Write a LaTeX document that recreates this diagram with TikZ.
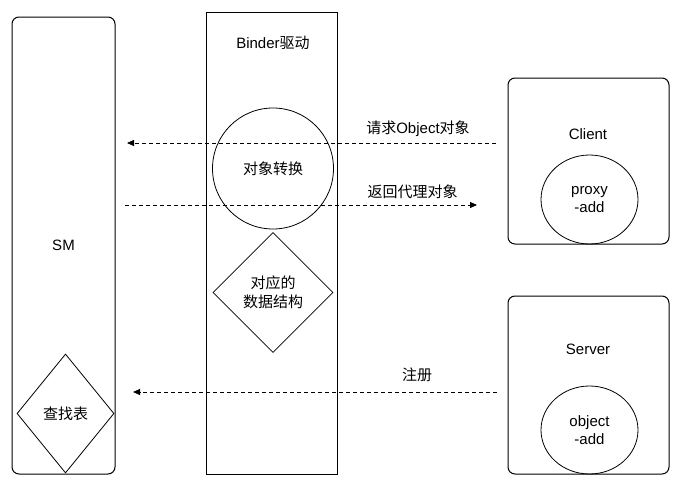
\documentclass[tikz,border=0pt]{standalone}
\usepackage{fontspec}
\setmainfont{Liberation Sans}
\newfontfamily\cjk{Noto Sans CJK SC}
\usetikzlibrary{positioning, shapes.geometric, arrows.meta}

\begin{document}
\begin{tikzpicture}[
            x=1pt, y=-1pt,
            font=\fontsize{15}{18}\selectfont,
            lane/.style={draw, line width=1pt, inner sep=0pt},
            host/.style={lane, rounded corners=7pt},
            zh/.style={font=\cjk\fontsize{15}{19}\selectfont},
            proc/.style={draw, line width=0.8pt, align=center, inner sep=0pt},
            store/.style={diamond, draw, line width=0.8pt, align=center, inner sep=0pt},
            msg/.style={-{Triangle[length=7pt,width=6pt]}, dash pattern=on 4pt off 3pt, line width=0.9pt},
        ]
        \useasboundingbox (0,0) rectangle (681,485);

        % SM
        \node[host, minimum width=103pt, minimum height=457pt] (SM) at (63.5,245.5) {SM};
        \node[store, zh, minimum width=97pt, minimum height=119pt] (lookup) at (65.5,413.5) {查找表};

        % Binder driver
        \node[lane, minimum width=131pt, minimum height=462pt] (binder) at (271.5,243) {};
        \node (binder-label) at (273,43) {Binder{\cjk 驱动}};
        \node[proc, zh, circle, minimum size=121pt] (conv) at (273,168.5) {对象转换};
        \node[store, zh, minimum width=120pt, minimum height=120pt] (struct) at (273,292.5) {对应的\\数据结构};

        % Client
        \node[host, minimum width=161pt, minimum height=166pt] (client) at (588.5,161) {};
        \node (client-label) at (588,134) {Client};
        \node[proc, ellipse, minimum width=97pt, minimum height=89pt] (proxy) at (589.5,199.5) {proxy\\-add};

        % Server
        \node[host, minimum width=161pt, minimum height=178pt] (server) at (588.5,385) {};
        \node (server-label) at (588,349) {Server};
        \node[proc, ellipse, minimum width=97pt, minimum height=88pt] (object) at (589.5,430) {object\\-add};

        % Message ends
        \coordinate (req-s) at (496,143);
        \coordinate (req-e) at (127,143);
        \coordinate (ret-s) at (125,205);
        \coordinate (ret-e) at (477,205);
        \coordinate (reg-s) at (497,392);
        \coordinate (reg-e) at (133,392);

        % Messages
        \draw[msg] (req-s) -- (req-e);
        \draw[msg] (ret-s) -- (ret-e);
        \draw[msg] (reg-s) -- (reg-e);

        % Message labels
        \node (req-label) at (418,129) {{\cjk 请求}Object{\cjk 对象}};
        \node[zh] (ret-label) at (412.5,192) {返回代理对象};
        \node[zh] (reg-label) at (417,375) {注册};

    \end{tikzpicture}
\end{document}
